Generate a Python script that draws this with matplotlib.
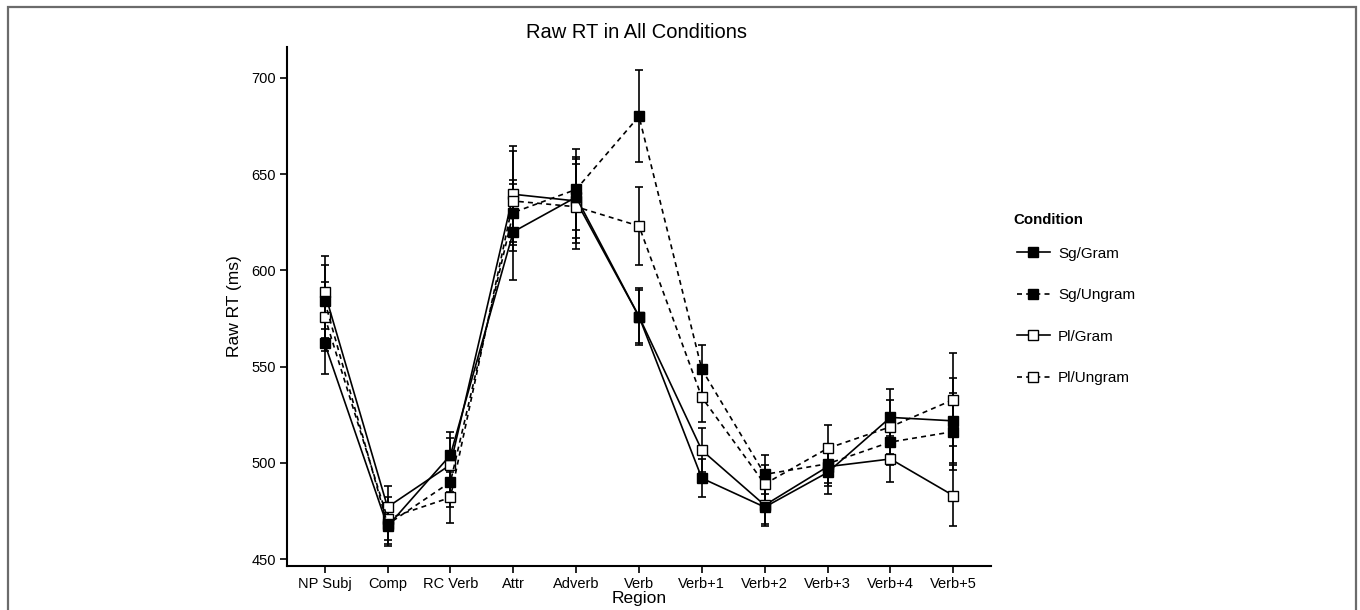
import numpy as np
import matplotlib
matplotlib.use('Agg')
import matplotlib.pyplot as plt
from matplotlib.patches import Rectangle

plt.rcParams['font.family'] = ['Liberation Sans', 'DejaVu Sans']

regions = ['NP Subj', 'Comp', 'RC Verb', 'Attr', 'Adverb', 'Verb',
           'Verb+1', 'Verb+2', 'Verb+3', 'Verb+4', 'Verb+5']

# mean raw RT per region (ms)
sg_gram = [562, 467, 504, 620, 638, 576, 492, 477, 495, 523.6, 521.8]
sg_ungram = [584, 468, 490, 630, 642, 680, 548.5, 494, 499.5, 510.8, 516.2]
pl_gram = [588.5, 477, 499, 639.5, 636, 576, 506.5, 478, 498, 502, 483]
pl_ungram = [576, 471, 482, 636, 633, 623, 534, 489, 507.5, 518.7, 532.8]

# standard errors
sg_gram_se = [16, 10, 12, 25, 21, 15, 10, 10, 11, 15, 22]
sg_ungram_se = [19, 10, 13, 17, 21, 24, 12.5, 10, 10, 12, 20]
pl_gram_se = [19, 11, 14, 25, 22, 14, 11.5, 10, 10, 12, 16]
pl_ungram_se = [18, 11, 13, 26, 22, 20.5, 13, 10, 12, 14, 24]

conditions = ['Sg/Gram', 'Sg/Ungram', 'Pl/Gram', 'Pl/Ungram']
means = [sg_gram, sg_ungram, pl_gram, pl_ungram]
errors = [sg_gram_se, sg_ungram_se, pl_gram_se, pl_ungram_se]
dash = (0, (3, 2.5))
styles = [('-', 'black'), (dash, 'black'), ('-', 'white'), (dash, 'white')]
layers = [5, 5, 3, 3]

fig = plt.figure(figsize=(13.6, 6.1), dpi=100)
ax = fig.add_axes([0.211, 0.0721, 0.5177, 0.8509])

x = np.arange(1, len(regions) + 1)
for name, m, se, (ls, fc), z in zip(conditions, means, errors, styles, layers):
    ax.errorbar(x, m, yerr=se, fmt='none', ecolor='black', elinewidth=1.2,
                capsize=3, capthick=1.2, zorder=2)
    ax.plot(x, m, linestyle=ls, color='black', lw=1.2, marker='s',
            markersize=7.5, markerfacecolor=fc, markeredgecolor='black',
            markeredgewidth=1.0, label=name, zorder=z)

ax.set_xlim(0.4, 11.6)
ax.set_ylim(446.4, 716)
ax.set_xticks(x)
ax.set_xticklabels(regions)
ax.set_yticks([450, 500, 550, 600, 650, 700])

for s in ['top', 'right']:
    ax.spines[s].set_visible(False)
for s in ['left', 'bottom']:
    ax.spines[s].set_linewidth(1.5)
ax.tick_params(axis='both', direction='out', length=5, width=1.2,
               labelsize=10.5, pad=3, colors='black')

ax.set_xlabel('Region', fontsize=12.5, labelpad=0)
ax.set_ylabel('Raw RT (ms)', fontsize=12.5, labelpad=7)

fig.text(637 / 1360, 1 - 32 / 610, 'Raw RT in All Conditions', ha='center',
         va='center', fontsize=14.5)

# legend title placed on its own, entries below it
fig.text(1013 / 1360, 1 - 220 / 610, 'Condition', ha='left', va='center',
         fontsize=10.8, fontweight='bold')
leg = ax.legend(loc='upper left', bbox_to_anchor=(1003 / 1360, 1 - 233 / 610),
                bbox_transform=fig.transFigure, frameon=False,
                fontsize=11, handlelength=2.15, labelspacing=1.8,
                handletextpad=0.55)

# outer frame around the figure
fig.patches.append(Rectangle((8 / 1360, -0.1), 1348 / 1360, 1.1 - 7 / 610,
                             transform=fig.transFigure, fill=False,
                             edgecolor='#6b6b6b', lw=1.6, zorder=0))

fig.savefig('out.png', dpi=100)
